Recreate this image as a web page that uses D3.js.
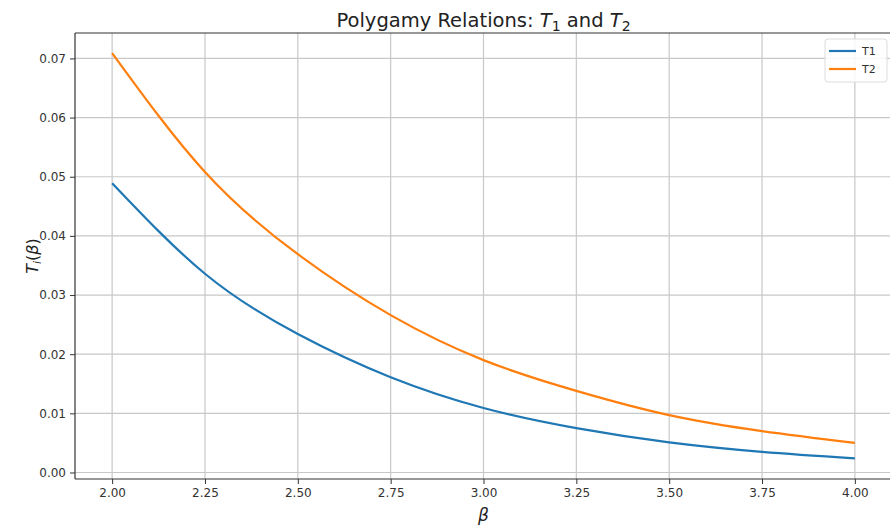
<!DOCTYPE html>
<html>
<head>
<meta charset="utf-8">
<script src="https://cdn.jsdelivr.net/npm/d3@7"></script>
<style>
  html, body { margin: 0; padding: 0; background: #ffffff; }
  svg { display: block; font-family: "DejaVu Sans", sans-serif; }
</style>
</head>
<body>
<svg id="chart" width="890" height="526"></svg>
<script>
// ---- data ----
const betaValues = [2.00, 2.25, 2.50, 2.75, 3.00, 3.25, 3.50, 3.75, 4.00];
const t1Values   = [0.0489, 0.0336, 0.0234, 0.0161, 0.0109, 0.0075, 0.0051, 0.0035, 0.0024];
const t2Values   = [0.0709, 0.0508, 0.0369, 0.0266, 0.0190, 0.0138, 0.0097, 0.0070, 0.0050];
const seriesNames = ["T1", "T2"];
const xTicks = [2.00, 2.25, 2.50, 2.75, 3.00, 3.25, 3.50, 3.75, 4.00];
const yTicks = [0.00, 0.01, 0.02, 0.03, 0.04, 0.05, 0.06, 0.07];

const colors = ["#1f77b4", "#ff7f0e"];
const svg = d3.select("#chart");

const plot = { left: 75, right: 892, top: 33, bottom: 479 };

const x = d3.scaleLinear().domain([1.9, 4.1]).range([plot.left, plot.right]);
const y = d3.scaleLinear().domain([-0.0011, 0.0743]).range([plot.bottom, plot.top]);

// grid
const grid = svg.append("g");
grid.selectAll("line.gx").data(xTicks).enter().append("line")
  .attr("x1", d => x(d)).attr("x2", d => x(d))
  .attr("y1", plot.top).attr("y2", plot.bottom)
  .attr("stroke", "#c8c8c8").attr("stroke-width", 1.2);
grid.selectAll("line.gy").data(yTicks).enter().append("line")
  .attr("x1", plot.left).attr("x2", plot.right)
  .attr("y1", d => y(d)).attr("y2", d => y(d))
  .attr("stroke", "#c8c8c8").attr("stroke-width", 1.2);

// lines
const seriesData = [t1Values, t2Values];
const line = d3.line()
  .x((d, i) => x(betaValues[i]))
  .y(d => y(d))
  .curve(d3.curveNatural);
seriesData.forEach((vals, k) => {
  svg.append("path")
    .attr("d", line(vals))
    .attr("fill", "none")
    .attr("stroke", colors[k])
    .attr("stroke-width", 2.2)
    .attr("stroke-linecap", "butt");
});

// axes
const xAxis = d3.axisBottom(x).tickValues(xTicks).tickFormat(d3.format(".2f")).tickSize(5).tickPadding(4);
const yAxis = d3.axisLeft(y).tickValues(yTicks).tickFormat(d3.format(".2f")).tickSize(5).tickPadding(4);

const gx = svg.append("g").attr("transform", `translate(0,${plot.bottom})`).call(xAxis);
const gy = svg.append("g").attr("transform", `translate(${plot.left},0)`).call(yAxis);
[gx, gy].forEach(g => {
  g.select(".domain").remove();
  g.selectAll(".tick line").attr("stroke", "#333").attr("stroke-width", 1);
  g.selectAll(".tick text").attr("fill", "#333").style("font-size", "12px")
   .style("font-family", "'DejaVu Sans', sans-serif");
});

// spines
svg.append("line").attr("x1", plot.left).attr("x2", plot.left)
  .attr("y1", plot.top).attr("y2", plot.bottom).attr("stroke", "#333").attr("stroke-width", 1.2);
svg.append("line").attr("x1", plot.left).attr("x2", plot.right)
  .attr("y1", plot.bottom).attr("y2", plot.bottom).attr("stroke", "#333").attr("stroke-width", 1.2);
svg.append("line").attr("x1", plot.left).attr("x2", plot.right)
  .attr("y1", plot.top).attr("y2", plot.top).attr("stroke", "#333").attr("stroke-width", 1.2);

// title
const title = svg.append("text")
  .attr("x", (plot.left + plot.right) / 2).attr("y", 27)
  .attr("text-anchor", "middle").attr("fill", "#222")
  .style("font-size", "19.5px");
title.append("tspan").text("Polygamy Relations: ");
title.append("tspan").style("font-style", "italic").text("T");
title.append("tspan").attr("dy", 4).style("font-size", "14px").text("1");
title.append("tspan").attr("dy", -4).text(" and ");
title.append("tspan").style("font-style", "italic").text("T");
title.append("tspan").attr("dy", 4).style("font-size", "14px").text("2");

// y label
const yl = svg.append("text")
  .attr("transform", `translate(38,${(plot.top + plot.bottom) / 2}) rotate(-90)`)
  .attr("text-anchor", "middle").attr("fill", "#222")
  .style("font-size", "16px");
yl.append("tspan").style("font-style", "italic").text("T");
yl.append("tspan").attr("dy", 3).style("font-size", "11px").style("font-style", "italic").text("i");
yl.append("tspan").attr("dy", -3).text("(");
yl.append("tspan").style("font-style", "italic").text("β");
yl.append("tspan").text(")");

// x label
svg.append("text")
  .attr("x", (plot.left + plot.right) / 2).attr("y", 521)
  .attr("text-anchor", "middle").attr("fill", "#222")
  .style("font-size", "17px").style("font-style", "italic").text("β");

// legend
const lg = svg.append("g");
lg.append("rect").attr("x", 825).attr("y", 39).attr("width", 62).attr("height", 43)
  .attr("rx", 3).attr("fill", "#fff").attr("fill-opacity", 0.85)
  .attr("stroke", "#dcdcdc").attr("stroke-width", 1);
seriesNames.forEach((name, i) => {
  const yy = 51 + i * 18;
  lg.append("line").attr("x1", 829).attr("x2", 856).attr("y1", yy).attr("y2", yy)
    .attr("stroke", colors[i]).attr("stroke-width", 2.2);
  lg.append("text").attr("x", 862).attr("y", yy + 4).attr("fill", "#333")
    .style("font-size", "11px").text(name);
});
</script>
</body>
</html>
